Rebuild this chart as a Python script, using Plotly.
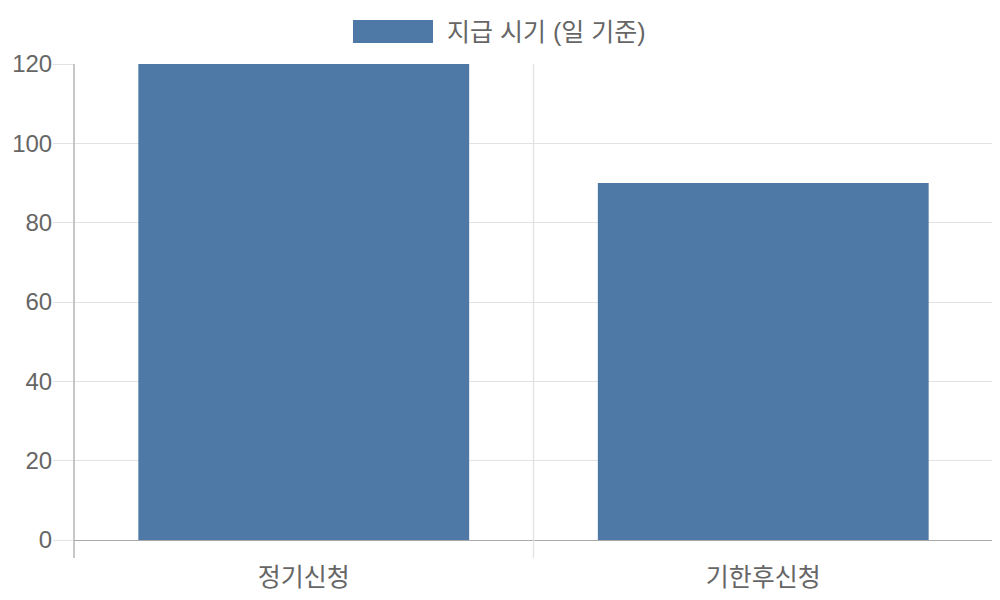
import plotly.graph_objects as go

categories = ["정기신청", "기한후신청"]
days = [120, 90]
series_name = "지급 시기 (일 기준)"

BAR_COLOR = "#4e79a7"
GRID = "#e2e2e2"
AXIS = "#aaaaaa"
TEXT = "#666666"
FONT = "Liberation Sans, Noto Sans CJK KR, sans-serif"

# page body has an 8px margin, so the figure is 992x592 and shifted
W, H = 992, 592
L, R, T, B = 66, 7, 56, 60
PW, PH = W - L - R, H - T - B


def px_x(x):
    return (x - 8 - L) / PW


def px_y(y):
    return (H - B - (y - 8)) / PH


fig = go.Figure()
fig.add_trace(go.Bar(x=categories, y=days, name=series_name,
                     marker=dict(color=BAR_COLOR, line=dict(width=0)),
                     showlegend=False))

# vertical grid lines + tick marks at category boundaries (chart.js look)
for i in range(len(categories) + 1):
    xp = i / len(categories)
    fig.add_shape(type="line", xref="paper", yref="paper", x0=xp, x1=xp,
                  y0=-18 / PH, y1=1,
                  line=dict(color=AXIS if i == 0 else GRID, width=1.3))

# legend drawn by hand so the colour box is wide like the original
fig.add_shape(type="rect", xref="paper", yref="paper",
              x0=px_x(353), x1=px_x(433), y0=px_y(43), y1=px_y(20),
              fillcolor=BAR_COLOR, line=dict(width=0))
fig.add_annotation(text=series_name, xref="paper", yref="paper",
                   x=px_x(445), y=px_y(32),
                   xanchor="left", yanchor="middle", showarrow=False,
                   font=dict(size=25, color=TEXT, family=FONT))

fig.update_layout(
    width=W, height=H,
    margin=dict(l=L, r=R, t=T, b=B, autoexpand=False),
    plot_bgcolor="white", paper_bgcolor="white",
    bargap=0.28,
    font=dict(family=FONT, size=22, color=TEXT),
    xaxis=dict(showgrid=False, showline=True, linecolor=AXIS, linewidth=1.3,
               ticks="outside", ticklen=15, tickcolor="rgba(0,0,0,0)",
               tickfont=dict(size=25, color=TEXT), automargin=False),
    yaxis=dict(range=[0, 120], dtick=20, showgrid=True, gridcolor=GRID,
               gridwidth=1, zeroline=False, showline=False,
               ticks="outside", ticklen=20, tickcolor=GRID,
               ticklabelstandoff=-4,
               tickfont=dict(size=24, color=TEXT), automargin=False),
)

fig.write_html("out.html")
